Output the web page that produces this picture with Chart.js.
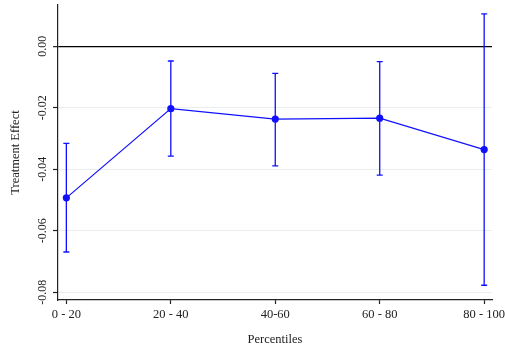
<!DOCTYPE html>
<html>
<head>
<meta charset="utf-8">
<script src="https://cdn.jsdelivr.net/npm/chart.js@4/dist/chart.umd.min.js"></script>
<style>
  html, body { margin: 0; padding: 0; background: #fff; }
  #wrap { width: 505px; height: 349px; }
</style>
</head>
<body>
<div id="wrap"><canvas id="c" width="505" height="349"></canvas></div>
<script>
// Percentile groups along the x axis
const categories = ['0 - 20', '20 - 40', '40-60', '60 - 80', '80 - 100'];
// Point estimates of the treatment effect
const effects = [-0.0493, -0.0203, -0.0237, -0.0234, -0.0336];
// Confidence interval bounds
const ciLower = [-0.0669, -0.0357, -0.0389, -0.0419, -0.0777];
const ciUpper = [-0.0316, -0.0048, -0.0088, -0.0050, 0.0105];
// Y-axis tick values
const yTicks = [-0.08, -0.06, -0.04, -0.02, 0];

const BLUE = 'rgb(16,16,255)';
const SERIF = '"Liberation Serif", "Times New Roman", serif';

const points = effects.map((v, i) => ({ x: i, y: v }));

// Vertical whiskers with short caps at each percentile group
const errorBars = {
  id: 'errorBars',
  beforeDatasetsDraw(chart) {
    const { ctx, scales: { x, y } } = chart;
    ctx.save();
    ctx.strokeStyle = BLUE;
    ctx.lineWidth = 1.3;
    categories.forEach((_, i) => {
      const px = x.getPixelForValue(i);
      const top = y.getPixelForValue(ciUpper[i]);
      const bot = y.getPixelForValue(ciLower[i]);
      ctx.beginPath();
      ctx.moveTo(px, top); ctx.lineTo(px, bot);
      ctx.moveTo(px - 3, top); ctx.lineTo(px + 3, top);
      ctx.moveTo(px - 3, bot); ctx.lineTo(px + 3, bot);
      ctx.stroke();
    });
    ctx.restore();
  }
};

new Chart(document.getElementById('c'), {
  type: 'line',
  data: {
    datasets: [{
      data: points,
      borderColor: BLUE,
      backgroundColor: BLUE,
      borderWidth: 1.2,
      pointRadius: 3.6,
      pointBorderWidth: 0,
      pointBackgroundColor: BLUE,
      tension: 0,
      fill: false
    }]
  },
  options: {
    responsive: false,
    animation: false,
    devicePixelRatio: 1,
    layout: { padding: 0 },
    plugins: { legend: { display: false }, tooltip: { enabled: false } },
    scales: {
      x: {
        type: 'linear',
        min: -0.08,
        max: 4.075,
        afterBuildTicks: s => { s.ticks = categories.map((_, i) => ({ value: i })); },
        afterFit: s => { s.height = 49; s.paddingLeft = 0; s.paddingRight = 13; },
        ticks: {
          callback: v => categories[v] ?? '',
          font: { family: SERIF, size: 12.5 },
          color: '#222',
          padding: 3,
          maxRotation: 0,
          autoSkip: false
        },
        grid: {
          drawOnChartArea: false,
          drawTicks: true,
          tickLength: 4,
          tickColor: '#222',
          tickWidth: 1.2
        },
        border: { color: '#222', width: 1.2 },
        title: {
          display: true,
          text: 'Percentiles',
          font: { family: SERIF, size: 12.5 },
          color: '#222',
          padding: { top: 0, bottom: 2 }
        }
      },
      y: {
        type: 'linear',
        min: -0.0825,
        max: 0.0134,
        afterBuildTicks: s => { s.ticks = yTicks.map(v => ({ value: v })); },
        afterFit: s => { s.width = 58; s.paddingTop = 5; s.paddingBottom = 0; },
        ticks: {
          callback: v => v.toFixed(2),
          minRotation: 90,
          maxRotation: 90,
          crossAlign: 'center',
          padding: -2,
          font: { family: SERIF, size: 12 },
          color: '#222'
        },
        grid: {
          color: c => (c.tick && c.tick.value === 0 ? '#000' : '#e8eeee'),
          lineWidth: c => (c.tick && c.tick.value === 0 ? 1.3 : 1),
          tickLength: 5,
          tickColor: '#222',
          tickWidth: 1.2
        },
        border: { color: '#222', width: 1.2 },
        title: {
          display: true,
          text: 'Treatment Effect',
          font: { family: SERIF, size: 12.5 },
          color: '#222',
          padding: { top: 8, bottom: 0 }
        }
      }
    }
  },
  plugins: [errorBars]
});
</script>
</body>
</html>
